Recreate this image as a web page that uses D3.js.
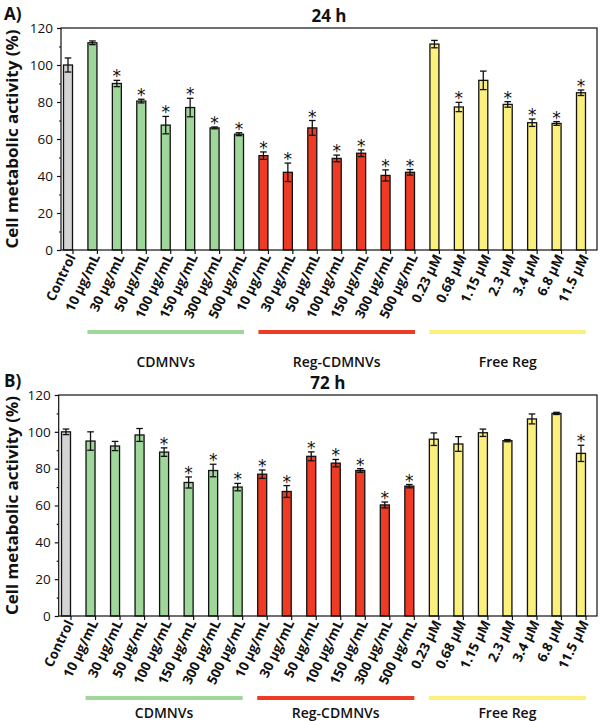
<!DOCTYPE html>
<html><head><meta charset="utf-8">
<script src="https://cdn.jsdelivr.net/npm/d3@7"></script>
<style>body{margin:0;background:#fff}svg{display:block}</style>
</head><body>
<script>
const categories = ["Control","10 μg/mL","30 μg/mL","50 μg/mL","100 μg/mL","150 μg/mL","300 μg/mL","500 μg/mL",
  "10 μg/mL","30 μg/mL","50 μg/mL","100 μg/mL","150 μg/mL","300 μg/mL","500 μg/mL",
  "0.23 μM","0.68 μM","1.15 μM","2.3 μM","3.4 μM","6.8 μM","11.5 μM"];
const groupOf = ["Control","CDMNVs","CDMNVs","CDMNVs","CDMNVs","CDMNVs","CDMNVs","CDMNVs",
  "Reg-CDMNVs","Reg-CDMNVs","Reg-CDMNVs","Reg-CDMNVs","Reg-CDMNVs","Reg-CDMNVs","Reg-CDMNVs",
  "Free Reg","Free Reg","Free Reg","Free Reg","Free Reg","Free Reg","Free Reg"];
const groupNames = ["CDMNVs","Reg-CDMNVs","Free Reg"];
const values24 = [100,112,90,80.5,67.5,77,66,62.6,51,42,66,49.5,52.3,40.3,42,111.3,77.3,91.7,78.7,68.8,68.4,85];
const err24    = [3.8,1,1.7,1,4.7,5,0.5,0.8,2,5,4,1.8,1.8,3,1.5,2,2.5,5,1.5,2,1,1.5];
const sig24    = [0,0,1,1,1,1,1,1,1,1,1,1,1,1,1,0,1,0,1,1,1,1];
const values72 = [100,95,92.3,98.3,89,72.5,79,70,77,67.6,86.7,83,79,60.3,70.5,96,93.4,99.5,95.2,107,110,88.3];
const err72    = [1.5,5,2.5,3.5,2.3,3,3.4,2,2.3,3.2,2.4,2,1,1.6,0.9,3.4,4,2,0.6,2.7,0.6,4.4];
const sig72    = [0,0,0,0,1,1,1,1,1,1,1,1,1,1,1,0,0,0,0,0,0,1];
const yTicks = [0,20,40,60,80,100,120];

const colors = {"Control":"#d4d4d4","CDMNVs":"#9fd79b","Reg-CDMNVs":"#ef3b24","Free Reg":"#fbf07c"};
const FONT = "'Open Sans', 'Noto Sans', sans-serif";

const svg = d3.select("body").append("svg").attr("width",600).attr("height",721);

function panel(opt){
  const {letter,title,values,errs,sigs,left,right,top,bottom,first,last,lineY,labelY} = opt;
  const n = values.length;
  const idx = d3.range(n);
  const x = d3.scalePoint().domain(idx).range([first,last]);
  const y = d3.scaleLinear().domain([0,120]).range([bottom,top]);
  const g = svg.append("g");
  const bw = 9;

  // bars
  g.selectAll("rect.bar").data(idx).join("rect")
    .attr("x",i=>x(i)-bw/2).attr("y",i=>y(values[i]))
    .attr("width",bw).attr("height",i=>y(0)-y(values[i]))
    .attr("fill",i=>colors[groupOf[i]]).attr("stroke","#111").attr("stroke-width",1.3);

  // error bars
  const eb = g.selectAll("g.eb").data(idx).join("g");
  eb.append("line").attr("x1",i=>x(i)).attr("x2",i=>x(i))
    .attr("y1",i=>y(values[i]+errs[i])).attr("y2",i=>y(values[i]-errs[i]))
    .attr("stroke","#111").attr("stroke-width",1.3);
  [1,-1].forEach(s=>{
    eb.append("line").attr("x1",i=>x(i)-3.3).attr("x2",i=>x(i)+3.3)
      .attr("y1",i=>y(values[i]+s*errs[i])).attr("y2",i=>y(values[i]+s*errs[i]))
      .attr("stroke","#111").attr("stroke-width",1.3);
  });

  // stars
  const starIdx = idx.filter(i=>sigs[i]);
  g.selectAll("text.star").data(starIdx).join("text")
    .attr("x",i=>x(i)).attr("y",i=>y(values[i]+errs[i])+2)
    .attr("text-anchor","middle").attr("font-family","'DejaVu Sans', sans-serif")
    .attr("font-size",17).attr("fill","#111").text("*");

  // frame
  g.append("rect").attr("x",left).attr("y",top).attr("width",right-left).attr("height",bottom-top)
    .attr("fill","none").attr("stroke","#111").attr("stroke-width",1.2);

  // y axis
  const yAxis = d3.axisLeft(y).tickValues(yTicks).tickSize(4).tickPadding(4);
  const ya = g.append("g").attr("transform",`translate(${left},0)`).call(yAxis);
  ya.select(".domain").remove();
  ya.selectAll("line").attr("stroke","#111").attr("stroke-width",1.2);
  ya.selectAll("text").attr("font-family",FONT).attr("font-size",13.5).attr("fill","#111");
  const yMinor = d3.axisLeft(y).tickValues(d3.range(10,120,20)).tickSize(2).tickFormat("");
  const ym = g.append("g").attr("transform",`translate(${left},0)`).call(yMinor);
  ym.select(".domain").remove();
  ym.selectAll("line").attr("stroke","#111").attr("stroke-width",1.2);

  // x ticks
  g.selectAll("line.xt").data(idx).join("line")
    .attr("x1",i=>x(i)+5).attr("x2",i=>x(i)+5).attr("y1",bottom).attr("y2",bottom+4)
    .attr("stroke","#111").attr("stroke-width",1.2);

  // x labels
  g.selectAll("text.xl").data(idx).join("text")
    .attr("transform",i=>`translate(${x(i)+8},${bottom+7}) rotate(-64)`)
    .attr("text-anchor","end").attr("font-family",FONT).attr("font-weight",700)
    .attr("font-size",13.5).attr("fill","#111").text(i=>categories[i]);

  // group lines
  groupNames.forEach(gn=>{
    const gi = idx.filter(i=>groupOf[i]===gn);
    const x0 = x(gi[0])-5, x1 = x(gi[gi.length-1])+5;
    g.append("line").attr("x1",x0).attr("x2",x1).attr("y1",lineY).attr("y2",lineY)
      .attr("stroke",colors[gn]).attr("stroke-width",4);
    g.append("text").attr("x",(x0+x1)/2).attr("y",labelY).attr("text-anchor","middle")
      .attr("font-family",FONT).attr("font-weight",600).attr("font-size",14).attr("fill","#111").text(gn);
  });

  // y title
  g.append("text").attr("transform",`translate(17.5,${(top+bottom)/2}) rotate(-90)`)
    .attr("text-anchor","middle").attr("font-family",FONT).attr("font-weight",700)
    .attr("font-size",16).attr("textLength",219).attr("lengthAdjust","spacingAndGlyphs")
    .attr("fill","#111").text("Cell metabolic activity (%)");

  // titles
  g.append("text").attr("x",4).attr("y",top-8).attr("font-family",FONT).attr("font-weight",700)
    .attr("font-size",17).attr("fill","#111").text(letter);
  g.append("text").attr("x",(left+right)/2).attr("y",top-6).attr("text-anchor","middle")
    .attr("font-family",FONT).attr("font-weight",700).attr("font-size",17).attr("fill","#111").text(title);
}

panel({letter:"A)",title:"24 h",values:values24,errs:err24,sigs:sig24,
  left:61,right:597,top:28,bottom:250,first:68,last:581,lineY:332,labelY:367});
panel({letter:"B)",title:"72 h",values:values72,errs:err72,sigs:sig72,
  left:58.7,right:597,top:395,bottom:616,first:66,last:581,lineY:698,labelY:718});
</script>
</body></html>
